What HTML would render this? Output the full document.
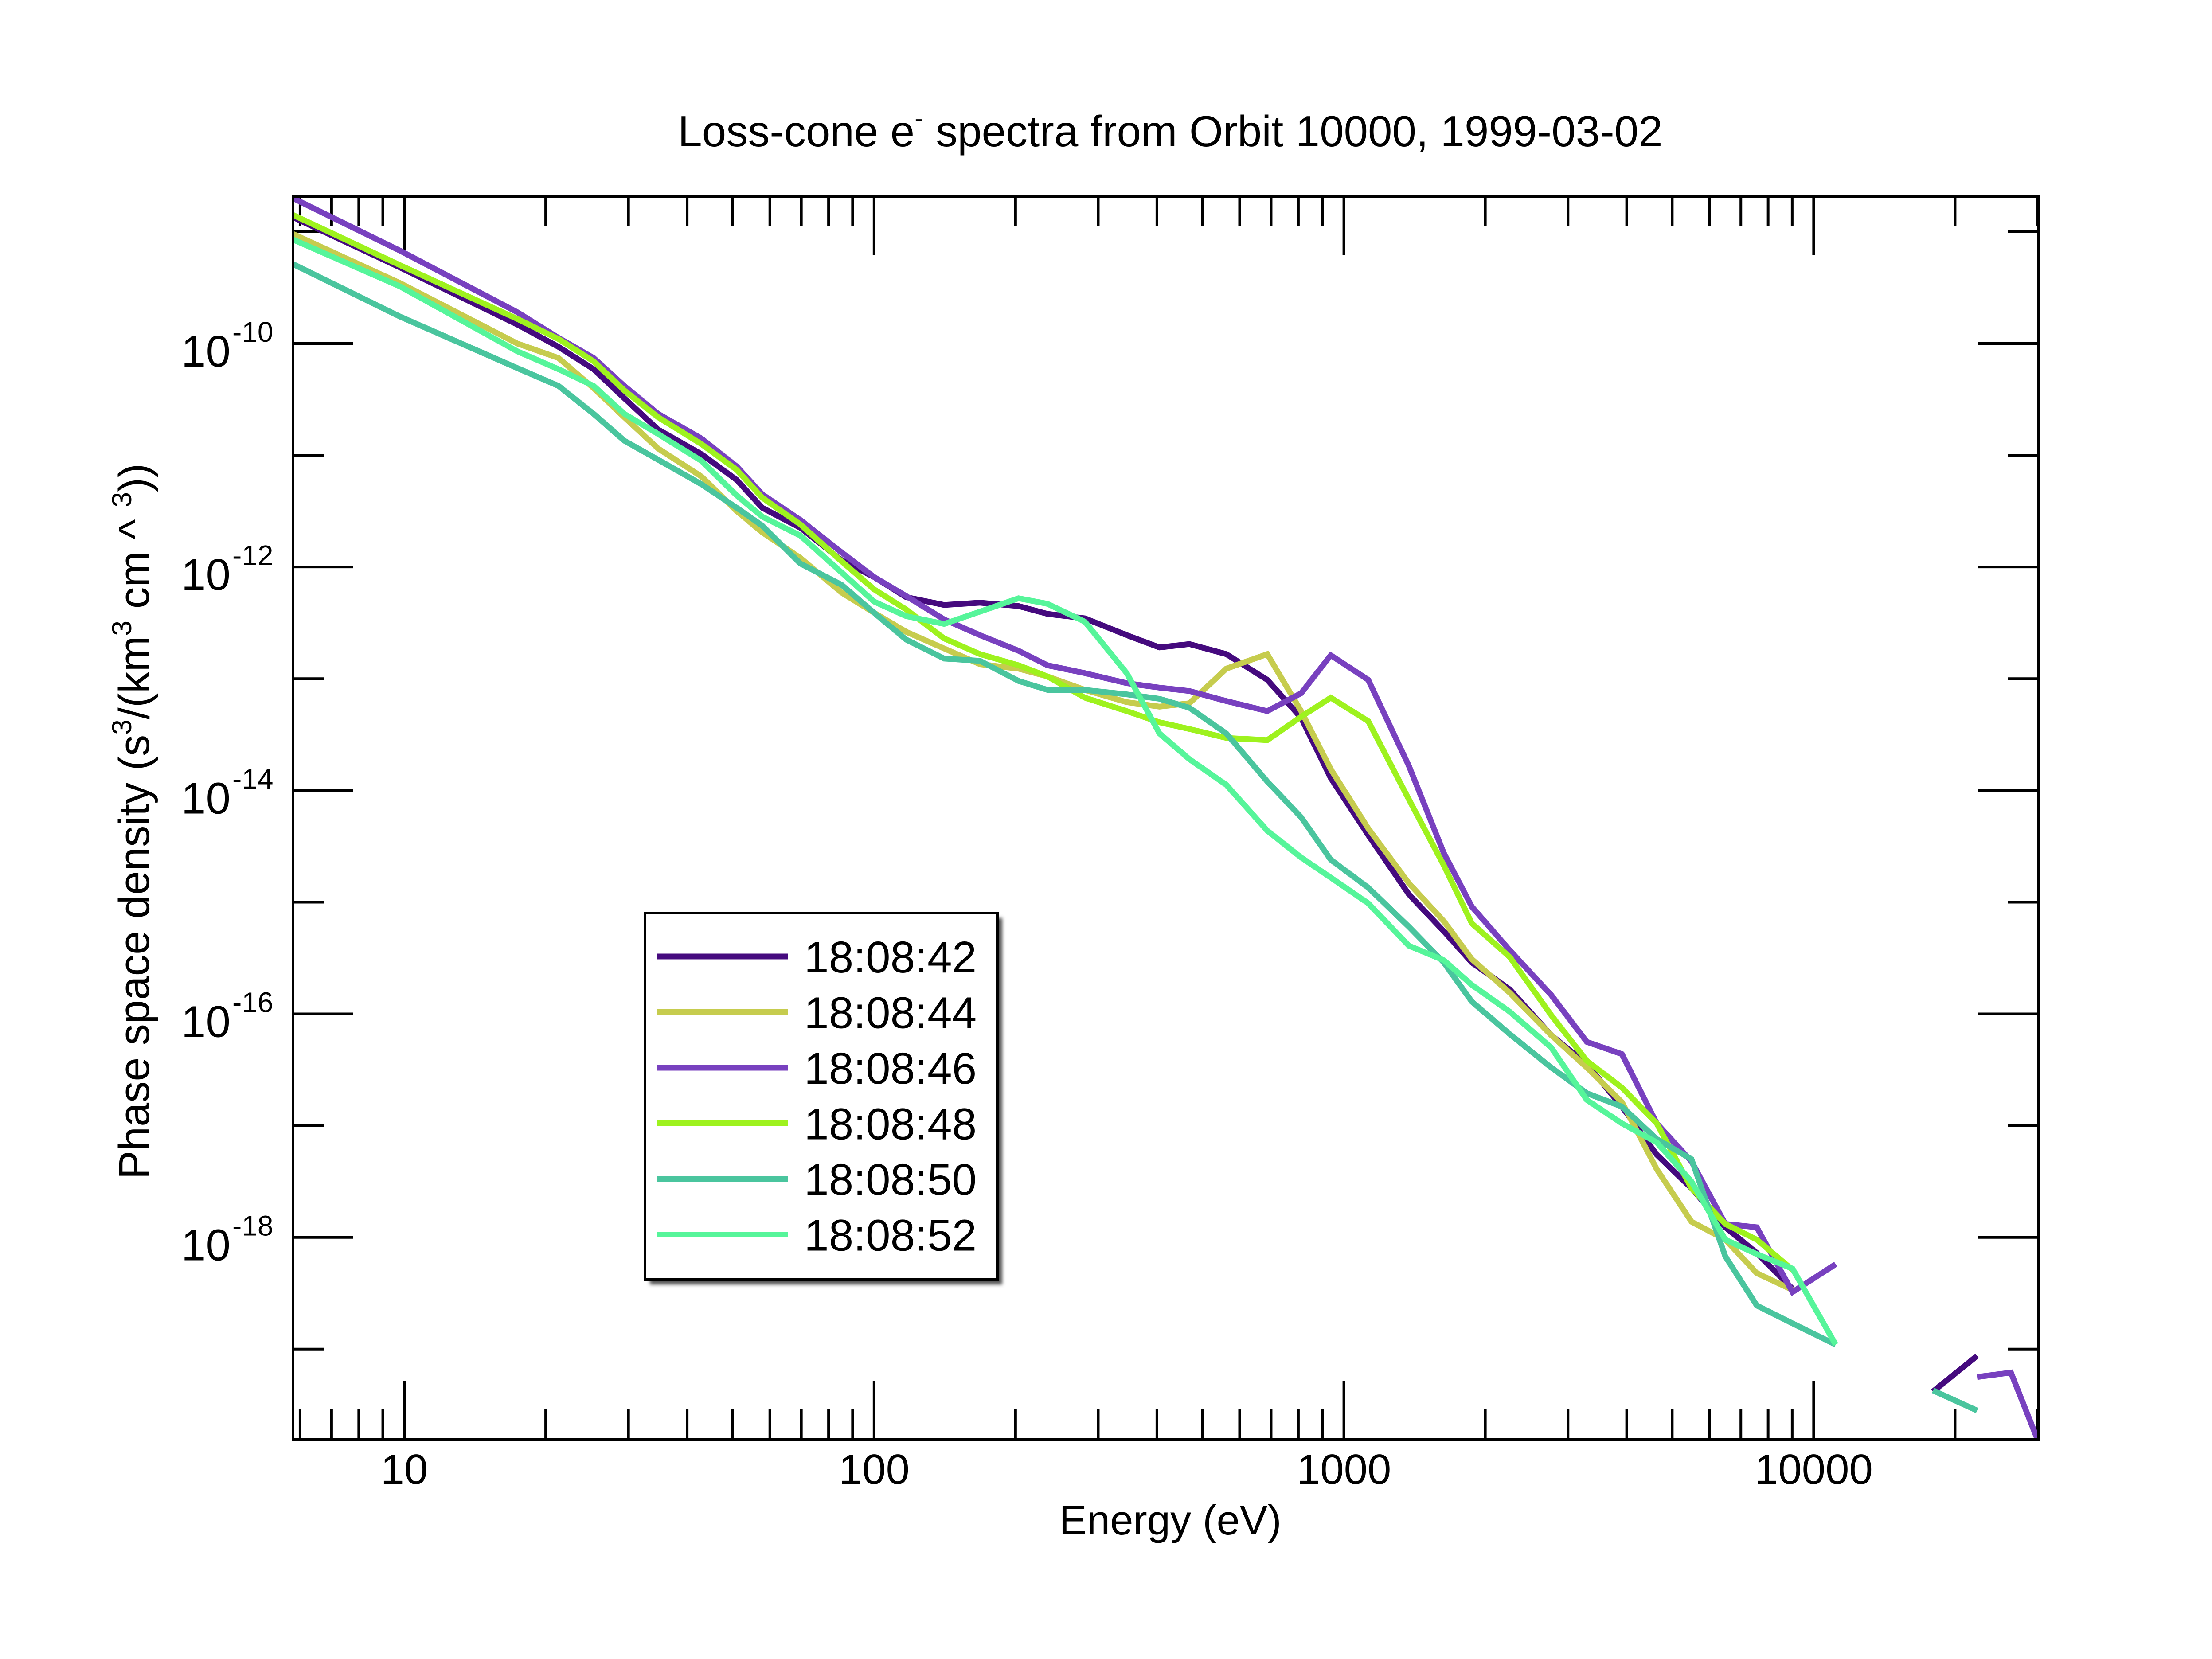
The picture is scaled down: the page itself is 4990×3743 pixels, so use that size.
<!DOCTYPE html>
<html><head><meta charset="utf-8"><style>
html,body{margin:0;padding:0;background:#fff;}
svg{display:block;font-family:"Liberation Sans",Arial,sans-serif;}
</style></head><body>
<svg id="chart" width="4990" height="3743" viewBox="0 0 4990 3743" xmlns="http://www.w3.org/2000/svg">
<defs>
<clipPath id="plotclip"><rect x="661" y="443" width="3938" height="2805"/></clipPath>
<filter id="blur" x="-10%" y="-10%" width="120%" height="120%"><feGaussianBlur stdDeviation="4"/></filter>
</defs>
<text x="2640" y="330" font-size="98" text-anchor="middle">Loss-cone e<tspan dy="-42" font-size="62">-</tspan><tspan dy="42"> spectra from Orbit 10000, 1999-03-02</tspan></text>
<g id="ticks"></g>
<g id="series" clip-path="url(#plotclip)"></g>
<rect x="661" y="443" width="3938" height="2805" fill="none" stroke="#000" stroke-width="6"/>
<g id="xlabels"></g>
<g id="ylabels"></g>
<text x="2640" y="3462" font-size="94" text-anchor="middle">Energy (eV)</text>
<text transform="translate(336,1853) rotate(-90)" font-size="97" text-anchor="middle">Phase space density (s<tspan dy="-40" font-size="62">3</tspan><tspan dy="40">/(km</tspan><tspan dy="-40" font-size="62">3</tspan><tspan dy="40"> cm ^ </tspan><tspan dy="-40" font-size="62">3</tspan><tspan dy="40">))</tspan></text>
<g id="legend">
<rect x="1466" y="2071" width="795" height="827" fill="#555" filter="url(#blur)"/>
<rect x="1455" y="2060" width="795" height="827" fill="#fff" stroke="#000" stroke-width="6"/>
</g>
</svg>
<script>
const energies = [5.8, 9.8, 17.4, 21.3, 25.3, 29.4, 34.7, 42.9, 51.0, 57.8, 69.7, 85.3, 100, 117, 141, 168, 203, 234, 281, 345, 405, 469, 562, 687, 811, 938, 1127, 1375, 1632, 1872, 2254, 2762, 3289, 3908, 4634, 5495, 6486, 7568, 9016, 11140, 14000, 17950, 22280, 26300, 29900];
const seriesLabels = ["18:08:42","18:08:44","18:08:46","18:08:48","18:08:50","18:08:52"];
const seriesColors = ["#450a7e","#c6cc4e","#7841bf","#9ef21e","#4ac59e","#56f59a"];
const logPsd42 = [-8.87,-9.32,-9.83,-10.03,-10.23,-10.49,-10.77,-10.99,-11.22,-11.47,-11.65,-11.94,-12.09,-12.27,-12.34,-12.32,-12.35,-12.42,-12.46,-12.61,-12.72,-12.69,-12.78,-13.01,-13.35,-13.89,-14.40,-14.93,-15.26,-15.54,-15.78,-16.19,-16.45,-16.83,-17.26,-17.56,-17.91,-18.14,-18.46,null,null,-19.38,-19.06,null,null];
const logPsd44 = [-9.02,-9.46,-10.00,-10.13,-10.40,-10.66,-10.94,-11.19,-11.50,-11.69,-11.92,-12.23,-12.41,-12.58,-12.73,-12.87,-12.91,-12.98,-13.10,-13.21,-13.25,-13.22,-12.91,-12.78,-13.29,-13.81,-14.34,-14.83,-15.17,-15.51,-15.81,-16.19,-16.48,-16.79,-17.39,-17.86,-18.02,-18.32,-18.47,null,null,null,null,null,null];
const logPsd46 = [-8.70,-9.17,-9.72,-9.95,-10.13,-10.38,-10.63,-10.85,-11.10,-11.35,-11.58,-11.87,-12.09,-12.26,-12.47,-12.61,-12.75,-12.88,-12.95,-13.04,-13.08,-13.11,-13.20,-13.29,-13.13,-12.79,-13.01,-13.78,-14.56,-15.04,-15.43,-15.83,-16.25,-16.36,-16.98,-17.32,-17.88,-17.91,-18.49,-18.24,null,null,-19.25,-19.21,-19.80];
const logPsd48 = [-8.85,-9.30,-9.78,-9.96,-10.16,-10.42,-10.66,-10.90,-11.13,-11.38,-11.62,-11.95,-12.20,-12.38,-12.64,-12.78,-12.88,-12.98,-13.17,-13.29,-13.39,-13.45,-13.53,-13.55,-13.34,-13.17,-13.38,-14.08,-14.67,-15.19,-15.49,-16.01,-16.42,-16.66,-16.98,-17.56,-17.88,-18.02,-18.29,null,null,null,null,null,null];
const logPsd50 = [-9.29,-9.76,-10.22,-10.38,-10.63,-10.87,-11.04,-11.26,-11.47,-11.63,-11.97,-12.16,-12.41,-12.65,-12.82,-12.84,-13.02,-13.10,-13.10,-13.14,-13.18,-13.26,-13.49,-13.92,-14.24,-14.62,-14.87,-15.22,-15.54,-15.89,-16.18,-16.48,-16.71,-16.83,-17.12,-17.30,-18.17,-18.61,-18.77,-18.96,null,-19.37,-19.55,null,null];
const logPsd52 = [-9.07,-9.49,-10.07,-10.23,-10.38,-10.63,-10.81,-11.05,-11.36,-11.55,-11.72,-12.05,-12.31,-12.44,-12.51,-12.40,-12.28,-12.33,-12.49,-12.95,-13.49,-13.72,-13.95,-14.36,-14.60,-14.78,-15.01,-15.39,-15.52,-15.74,-15.98,-16.30,-16.77,-16.98,-17.15,-17.50,-18.02,-18.15,-18.28,-18.96,null,null,null,null,null];
const allSeries = [logPsd42, logPsd44, logPsd46, logPsd48, logPsd50, logPsd52];
const xTickLabels = ["10","100","1000","10000"];
const yTickExponents = [-10,-12,-14,-16,-18];

const NS = "http://www.w3.org/2000/svg";
const L = 661, R = 4599, T = 443, B = 3248;
const xMin = 0.7631, xMax = 4.479, yTop = -8.683, yBot = -19.81;
function xs(e){ return L + (Math.log10(e) - xMin) / (xMax - xMin) * (R - L); }
function ys(lf){ return T + (yTop - lf) / (yTop - yBot) * (B - T); }
function mk(tag, attrs, parent){ const el = document.createElementNS(NS, tag); for (const k in attrs) el.setAttribute(k, attrs[k]); parent.appendChild(el); return el; }

const ticks = document.getElementById('ticks');
for (let d = 0; d <= 4; d++) {
  for (let m = 1; m <= 9; m++) {
    const v = m * Math.pow(10, d);
    const lg = Math.log10(v);
    if (lg < xMin || lg > xMax) continue;
    const x = xs(v), len = m === 1 ? 133 : 68;
    const t1 = mk('line', {x1:x, y1:B, x2:x, y2:B-len, stroke:'#000', 'stroke-width':6}, ticks);
    
    
    const t2 = mk('line', {x1:x, y1:T, x2:x, y2:T+len, stroke:'#000', 'stroke-width':6}, ticks);
    
    
  }
}
for (let e = -9; e >= -19; e--) {
  const y = ys(e), len = (e % 2 === 0) ? 136 : 70;
  const t1 = mk('line', {x1:L, y1:y, x2:L+len, y2:y, stroke:'#000', 'stroke-width':6}, ticks);
  
  
  const t2 = mk('line', {x1:R, y1:y, x2:R-len, y2:y, stroke:'#000', 'stroke-width':6}, ticks);
  
  
}
const xl = document.getElementById('xlabels');
xTickLabels.forEach(s => {
  const t = mk('text', {x: xs(Number(s)), y: 3348, 'font-size': 96, 'text-anchor': 'middle'}, xl);
  t.textContent = s;
  
  
});
const yl = document.getElementById('ylabels');
yTickExponents.forEach(e => {
  const y = ys(e);
  const t = mk('text', {x: 520, y: y + 52, 'font-size': 100, 'text-anchor': 'end'}, yl);
  t.textContent = '10';
  
  
  const s = mk('text', {x: 524, y: y - 4, 'font-size': 64}, yl);
  s.textContent = String(e);
  
  
});
const sg = document.getElementById('series');
allSeries.forEach((vals, i) => {
  let d = '', pen = false;
  vals.forEach((v, j) => {
    if (v === null) { pen = false; return; }
    d += (pen ? 'L' : 'M') + xs(energies[j]).toFixed(1) + ',' + ys(v).toFixed(1);
    pen = true;
  });
  const p = mk('path', {d: d, fill: 'none', stroke: seriesColors[i], 'stroke-width': 13, 'stroke-linejoin': 'miter'}, sg);
  
  
});
const lg = document.getElementById('legend');
seriesLabels.forEach((s, i) => {
  const y = 2158 + i * 125.5;
  const l = mk('line', {x1: 1483, y1: y, x2: 1777, y2: y, stroke: seriesColors[i], 'stroke-width': 13}, lg);
  
  
  const t = mk('text', {x: 1814, y: y + 36, 'font-size': 100}, lg);
  t.textContent = s;
  
  
});
</script>
</body></html>
